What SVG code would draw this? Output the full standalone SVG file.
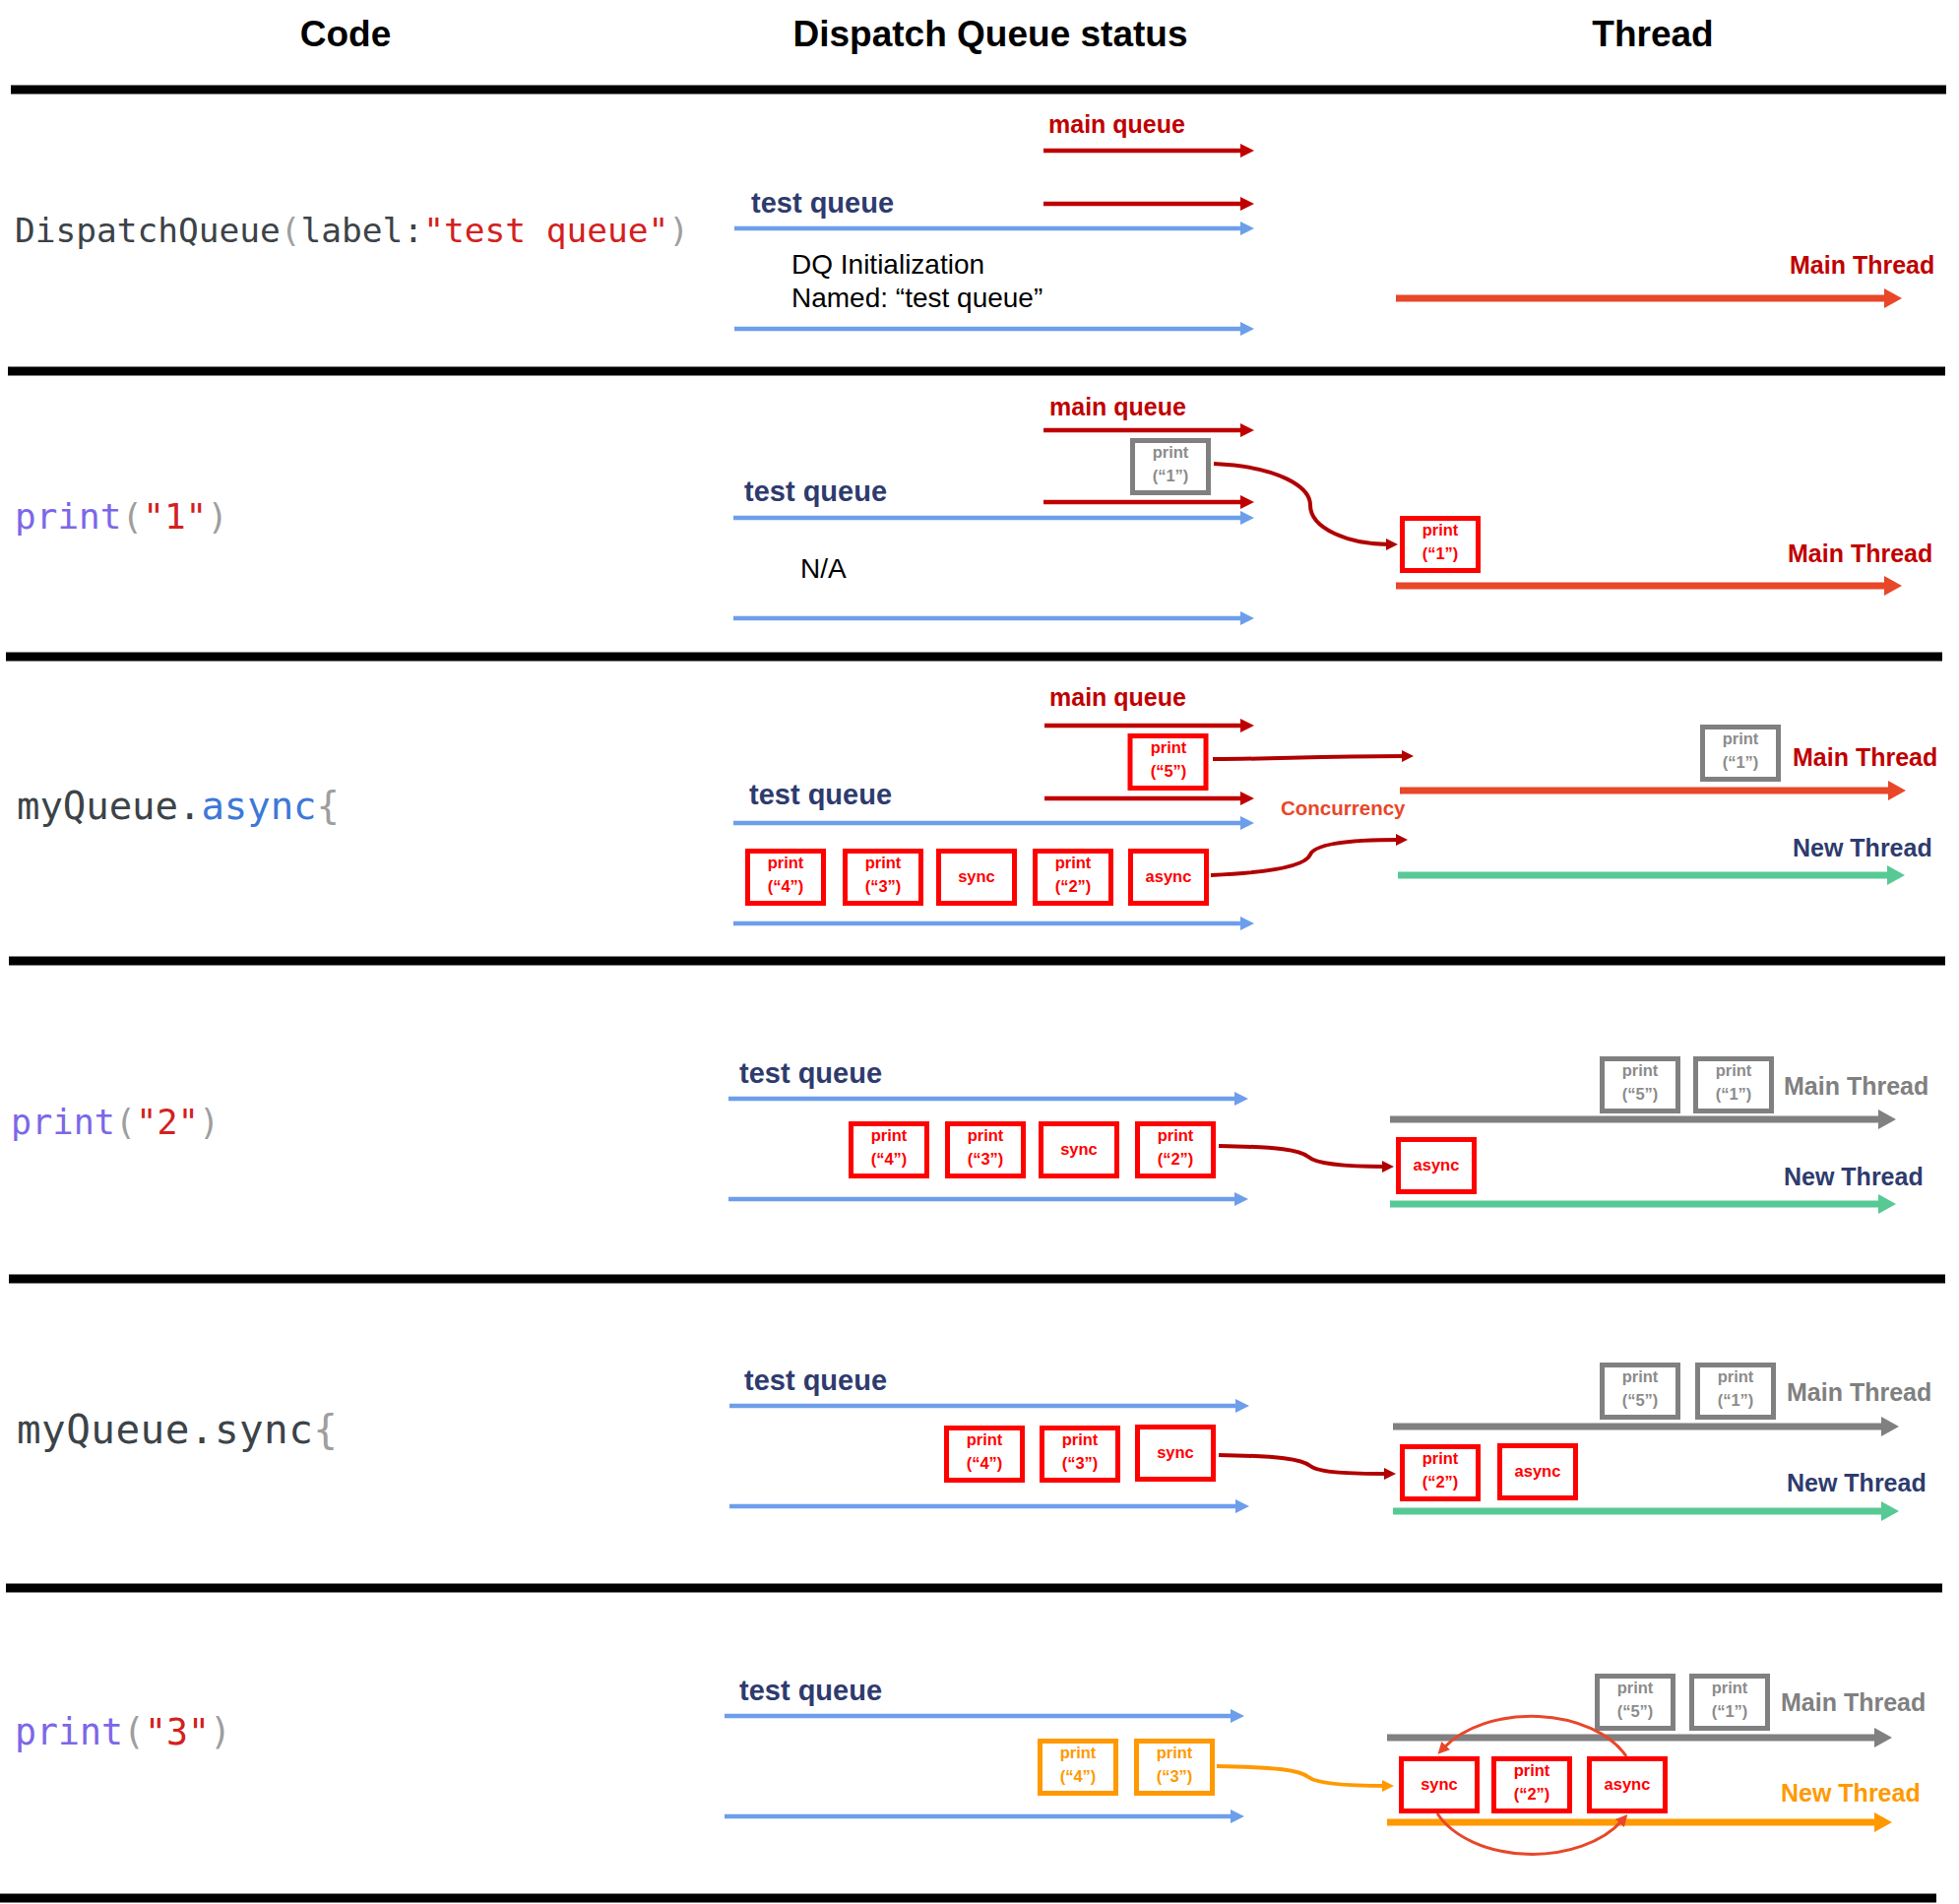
<svg xmlns="http://www.w3.org/2000/svg" width="1990" height="1934" viewBox="0 0 1990 1934">
<defs>
<style>
.hdr{font-family:"Liberation Sans",Arial,sans-serif;font-weight:bold;font-size:37px;fill:#000;text-anchor:middle}
.sep{stroke:#000;stroke-width:9}
.code{font-family:"DejaVu Sans Mono",monospace;font-size:34.5px;fill:#3c4348}
.c-p{fill:#9e9e9e}
.c-s{fill:#d32020}
.c-f{fill:#7c67e8}
.c-k{fill:#3d78d8}
.lbl{font-family:"Liberation Sans",Arial,sans-serif;font-weight:bold}
.mq{font-size:25px;fill:#c00000}
.tq{font-size:29px;fill:#2e3b6e}
.plain{font-family:"Liberation Sans",Arial,sans-serif;font-size:28px;fill:#000}
.th{font-size:25px}
.th-red{fill:#c00000}
.th-navy{fill:#2e3b6e}
.th-gray{fill:#808080}
.th-org{fill:#ff9900}
.conc{font-size:20.5px;fill:#e8472a}
.qr{stroke:#c00000;stroke-width:4.5;fill:none}
.qb{stroke:#6d9eeb;stroke-width:4.5;fill:none}
.tr{stroke-width:7;fill:none}
.t-red{stroke:#e8472a}
.t-green{stroke:#57c995}
.t-gray{stroke:#808080}
.t-org{stroke:#ff9900}
.box{fill:#fff;stroke-width:5}
.b-red{stroke:#ff0000}
.b-gray{stroke:#808080}
.b-org{stroke:#ff9900}
.bt{font-family:"Liberation Sans",Arial,sans-serif;font-weight:bold;font-size:16.5px;text-anchor:middle}
.bt-red{fill:#ff0000}
.bt-gray{fill:#8c8c8c}
.bt-org{fill:#ff9900}
.conn{fill:none;stroke:#b00000;stroke-width:4}
.conn-org{fill:none;stroke:#ff9900;stroke-width:4}
.cyc{fill:none;stroke:#e8472a;stroke-width:3}
</style>
<marker id="ah-qr" markerUnits="userSpaceOnUse" markerWidth="14" markerHeight="14" refX="6" refY="7" orient="auto" viewBox="0 0 14 14"><path d="M0,0L14,7L0,14z" fill="#c00000"/></marker>
<marker id="ah-qb" markerUnits="userSpaceOnUse" markerWidth="14" markerHeight="14" refX="6" refY="7" orient="auto" viewBox="0 0 14 14"><path d="M0,0L14,7L0,14z" fill="#6d9eeb"/></marker>
<marker id="ah-tred" markerUnits="userSpaceOnUse" markerWidth="18" markerHeight="20" refX="8" refY="10" orient="auto" viewBox="0 0 18 20"><path d="M0,0L18,10L0,20z" fill="#e8472a"/></marker>
<marker id="ah-tgreen" markerUnits="userSpaceOnUse" markerWidth="18" markerHeight="20" refX="8" refY="10" orient="auto" viewBox="0 0 18 20"><path d="M0,0L18,10L0,20z" fill="#57c995"/></marker>
<marker id="ah-tgray" markerUnits="userSpaceOnUse" markerWidth="18" markerHeight="20" refX="8" refY="10" orient="auto" viewBox="0 0 18 20"><path d="M0,0L18,10L0,20z" fill="#808080"/></marker>
<marker id="ah-torg" markerUnits="userSpaceOnUse" markerWidth="18" markerHeight="20" refX="8" refY="10" orient="auto" viewBox="0 0 18 20"><path d="M0,0L18,10L0,20z" fill="#ff9900"/></marker>
<marker id="ah-conn" markerUnits="userSpaceOnUse" markerWidth="12" markerHeight="12" refX="4" refY="6" orient="auto" viewBox="0 0 12 12"><path d="M0,0L12,6L0,12z" fill="#b00000"/></marker>
<marker id="ah-corg" markerUnits="userSpaceOnUse" markerWidth="12" markerHeight="12" refX="4" refY="6" orient="auto" viewBox="0 0 12 12"><path d="M0,0L12,6L0,12z" fill="#ff9900"/></marker>
<marker id="ah-cyc" markerUnits="userSpaceOnUse" markerWidth="12" markerHeight="12" refX="4" refY="6" orient="auto" viewBox="0 0 12 12"><path d="M0,0L12,6L0,12z" fill="#e8472a"/></marker>
</defs>
<rect width="1990" height="1934" fill="#fff"/>

<g id="headers">
<text class="hdr" x="351" y="47">Code</text>
<text class="hdr" x="1006" y="47">Dispatch Queue status</text>
<text class="hdr" x="1679" y="47">Thread</text>
</g>

<g id="separators">
<line class="sep" x1="11" y1="91" x2="1977" y2="91"/>
<line class="sep" x1="8" y1="377" x2="1976" y2="377"/>
<line class="sep" x1="6" y1="667" x2="1973" y2="667"/>
<line class="sep" x1="9" y1="976" x2="1976" y2="976"/>
<line class="sep" x1="9" y1="1299" x2="1976" y2="1299"/>
<line class="sep" x1="6" y1="1613" x2="1973" y2="1613"/>
<line class="sep" x1="0" y1="1928" x2="1967" y2="1928"/>
</g>

<!-- Code column -->
<g id="code-1"><text class="code" x="15" y="246" textLength="685">DispatchQueue<tspan class="c-p">(</tspan>label:<tspan class="c-s">"test queue"</tspan><tspan class="c-p">)</tspan></text></g>
<g id="code-2"><text class="code" x="15" y="537" style="font-size:36px" textLength="217"><tspan class="c-f">print</tspan><tspan class="c-p">(</tspan><tspan class="c-s">"1"</tspan><tspan class="c-p">)</tspan></text></g>
<g id="code-3"><text class="code" x="17" y="832" style="font-size:39px" textLength="328"><tspan>myQueue.</tspan><tspan class="c-k">async</tspan><tspan class="c-p">{</tspan></text></g>
<g id="code-4"><text class="code" x="11" y="1152" style="font-size:35px" textLength="212"><tspan class="c-f">print</tspan><tspan class="c-p">(</tspan><tspan class="c-s">"2"</tspan><tspan class="c-p">)</tspan></text></g>
<g id="code-5"><text class="code" x="17" y="1466" style="font-size:41px" textLength="326"><tspan>myQueue.sync</tspan><tspan class="c-p">{</tspan></text></g>
<g id="code-6"><text class="code" x="15" y="1772" style="font-size:36.5px" textLength="220"><tspan class="c-f">print</tspan><tspan class="c-p">(</tspan><tspan class="c-s">"3"</tspan><tspan class="c-p">)</tspan></text></g>

<!-- Labels -->
<g id="labels">
<text class="lbl mq" x="1065" y="135">main queue</text>
<text class="lbl tq" x="763" y="216">test queue</text>
<text class="plain" x="804" y="278">DQ Initialization</text>
<text class="plain" x="804" y="312">Named: “test queue”</text>
<text class="lbl th th-red" x="1818" y="278">Main Thread</text>

<text class="lbl mq" x="1066" y="422">main queue</text>
<text class="lbl tq" x="756" y="509">test queue</text>
<text class="plain" x="813" y="587">N/A</text>
<text class="lbl th th-red" x="1816" y="571">Main Thread</text>

<text class="lbl mq" x="1066" y="717">main queue</text>
<text class="lbl tq" x="761" y="817">test queue</text>
<text class="lbl conc" x="1301" y="828">Concurrency</text>
<text class="lbl th th-red" x="1821" y="778">Main Thread</text>
<text class="lbl th th-navy" x="1821" y="870">New Thread</text>

<text class="lbl tq" x="751" y="1100">test queue</text>
<text class="lbl th th-gray" x="1812" y="1112">Main Thread</text>
<text class="lbl th th-navy" x="1812" y="1204">New Thread</text>

<text class="lbl tq" x="756" y="1412">test queue</text>
<text class="lbl th th-gray" x="1815" y="1423">Main Thread</text>
<text class="lbl th th-navy" x="1815" y="1515">New Thread</text>

<text class="lbl tq" x="751" y="1727">test queue</text>
<text class="lbl th th-gray" x="1809" y="1738">Main Thread</text>
<text class="lbl th th-org" x="1809" y="1830">New Thread</text>
</g>

<!-- Queue and thread lanes -->
<g id="lanes">
<line class="qr" x1="1060" y1="153" x2="1266" y2="153" marker-end="url(#ah-qr)"/>
<line class="qr" x1="1060" y1="207" x2="1266" y2="207" marker-end="url(#ah-qr)"/>
<line class="qb" x1="746" y1="232" x2="1266" y2="232" marker-end="url(#ah-qb)"/>
<line class="qb" x1="746" y1="334" x2="1266" y2="334" marker-end="url(#ah-qb)"/>
<line class="tr t-red" x1="1418" y1="303" x2="1922" y2="303" marker-end="url(#ah-tred)"/>

<line class="qr" x1="1060" y1="437" x2="1266" y2="437" marker-end="url(#ah-qr)"/>
<line class="qr" x1="1060" y1="510" x2="1266" y2="510" marker-end="url(#ah-qr)"/>
<line class="qb" x1="745" y1="526" x2="1266" y2="526" marker-end="url(#ah-qb)"/>
<line class="qb" x1="745" y1="628" x2="1266" y2="628" marker-end="url(#ah-qb)"/>
<line class="tr t-red" x1="1418" y1="595" x2="1922" y2="595" marker-end="url(#ah-tred)"/>

<line class="qr" x1="1061" y1="737" x2="1266" y2="737" marker-end="url(#ah-qr)"/>
<line class="qr" x1="1061" y1="811" x2="1266" y2="811" marker-end="url(#ah-qr)"/>
<line class="qb" x1="745" y1="836" x2="1266" y2="836" marker-end="url(#ah-qb)"/>
<line class="qb" x1="745" y1="938" x2="1266" y2="938" marker-end="url(#ah-qb)"/>
<line class="tr t-red" x1="1422" y1="803" x2="1926" y2="803" marker-end="url(#ah-tred)"/>
<line class="tr t-green" x1="1420" y1="889" x2="1925" y2="889" marker-end="url(#ah-tgreen)"/>

<line class="qb" x1="740" y1="1116" x2="1260" y2="1116" marker-end="url(#ah-qb)"/>
<line class="qb" x1="740" y1="1218" x2="1260" y2="1218" marker-end="url(#ah-qb)"/>
<line class="tr t-gray" x1="1412" y1="1137" x2="1916" y2="1137" marker-end="url(#ah-tgray)"/>
<line class="tr t-green" x1="1412" y1="1223" x2="1916" y2="1223" marker-end="url(#ah-tgreen)"/>

<line class="qb" x1="741" y1="1428" x2="1261" y2="1428" marker-end="url(#ah-qb)"/>
<line class="qb" x1="741" y1="1530" x2="1261" y2="1530" marker-end="url(#ah-qb)"/>
<line class="tr t-gray" x1="1415" y1="1449" x2="1919" y2="1449" marker-end="url(#ah-tgray)"/>
<line class="tr t-green" x1="1415" y1="1535" x2="1919" y2="1535" marker-end="url(#ah-tgreen)"/>

<line class="qb" x1="736" y1="1743" x2="1256" y2="1743" marker-end="url(#ah-qb)"/>
<line class="qb" x1="736" y1="1845" x2="1256" y2="1845" marker-end="url(#ah-qb)"/>
<line class="tr t-gray" x1="1409" y1="1765" x2="1912" y2="1765" marker-end="url(#ah-tgray)"/>
<line class="tr t-org" x1="1409" y1="1851" x2="1912" y2="1851" marker-end="url(#ah-torg)"/>
</g>

<!-- Section 2 nodes -->
<g id="s2-q-print1"><rect class="box b-gray" x="1150.5" y="447.5" width="77" height="53"/><text class="bt bt-gray" x="1189" y="465">print</text><text class="bt bt-gray" x="1189" y="489">(“1”)</text></g>
<g id="s2-t-print1"><rect class="box b-red" x="1424.5" y="526.5" width="77" height="53"/><text class="bt bt-red" x="1463" y="544">print</text><text class="bt bt-red" x="1463" y="568">(“1”)</text></g>

<!-- Section 3 nodes -->
<g id="s3-q-print5"><rect class="box b-red" x="1148" y="747.5" width="77" height="53"/><text class="bt bt-red" x="1187" y="765">print</text><text class="bt bt-red" x="1187" y="789">(“5”)</text></g>
<g id="s3-q-print4"><rect class="box b-red" x="759.5" y="864.5" width="77" height="53"/><text class="bt bt-red" x="798" y="882">print</text><text class="bt bt-red" x="798" y="906">(“4”)</text></g>
<g id="s3-q-print3"><rect class="box b-red" x="858.5" y="864.5" width="77" height="53"/><text class="bt bt-red" x="897" y="882">print</text><text class="bt bt-red" x="897" y="906">(“3”)</text></g>
<g id="s3-q-sync"><rect class="box b-red" x="953.5" y="864.5" width="77" height="53"/><text class="bt bt-red" x="992" y="896">sync</text></g>
<g id="s3-q-print2"><rect class="box b-red" x="1051.5" y="864.5" width="77" height="53"/><text class="bt bt-red" x="1090" y="882">print</text><text class="bt bt-red" x="1090" y="906">(“2”)</text></g>
<g id="s3-q-async"><rect class="box b-red" x="1148.5" y="864.5" width="77" height="53"/><text class="bt bt-red" x="1187" y="896">async</text></g>
<g id="s3-t-print1"><rect class="box b-gray" x="1729.5" y="738.5" width="77" height="53"/><text class="bt bt-gray" x="1768" y="756">print</text><text class="bt bt-gray" x="1768" y="780">(“1”)</text></g>

<!-- Section 4 nodes -->
<g id="s4-q-print4"><rect class="box b-red" x="864.5" y="1141.5" width="77" height="53"/><text class="bt bt-red" x="903" y="1159">print</text><text class="bt bt-red" x="903" y="1183">(“4”)</text></g>
<g id="s4-q-print3"><rect class="box b-red" x="962.5" y="1141.5" width="77" height="53"/><text class="bt bt-red" x="1001" y="1159">print</text><text class="bt bt-red" x="1001" y="1183">(“3”)</text></g>
<g id="s4-q-sync"><rect class="box b-red" x="1057.5" y="1141.5" width="77" height="53"/><text class="bt bt-red" x="1096" y="1173">sync</text></g>
<g id="s4-q-print2"><rect class="box b-red" x="1155.5" y="1141.5" width="77" height="53"/><text class="bt bt-red" x="1194" y="1159">print</text><text class="bt bt-red" x="1194" y="1183">(“2”)</text></g>
<g id="s4-t-async"><rect class="box b-red" x="1420.5" y="1157.5" width="77" height="53"/><text class="bt bt-red" x="1459" y="1189">async</text></g>
<g id="s4-t-print5"><rect class="box b-gray" x="1627.5" y="1075.5" width="77" height="53"/><text class="bt bt-gray" x="1666" y="1093">print</text><text class="bt bt-gray" x="1666" y="1117">(“5”)</text></g>
<g id="s4-t-print1"><rect class="box b-gray" x="1722.5" y="1075.5" width="77" height="53"/><text class="bt bt-gray" x="1761" y="1093">print</text><text class="bt bt-gray" x="1761" y="1117">(“1”)</text></g>

<!-- Section 5 nodes -->
<g id="s5-q-print4"><rect class="box b-red" x="961.5" y="1450.5" width="77" height="53"/><text class="bt bt-red" x="1000" y="1468">print</text><text class="bt bt-red" x="1000" y="1492">(“4”)</text></g>
<g id="s5-q-print3"><rect class="box b-red" x="1058.5" y="1450.5" width="77" height="53"/><text class="bt bt-red" x="1097" y="1468">print</text><text class="bt bt-red" x="1097" y="1492">(“3”)</text></g>
<g id="s5-q-sync"><rect class="box b-red" x="1155.5" y="1449.5" width="77" height="53"/><text class="bt bt-red" x="1194" y="1481">sync</text></g>
<g id="s5-t-print2"><rect class="box b-red" x="1424.5" y="1469.5" width="77" height="53"/><text class="bt bt-red" x="1463" y="1487">print</text><text class="bt bt-red" x="1463" y="1511">(“2”)</text></g>
<g id="s5-t-async"><rect class="box b-red" x="1523.5" y="1468.5" width="77" height="53"/><text class="bt bt-red" x="1562" y="1500">async</text></g>
<g id="s5-t-print5"><rect class="box b-gray" x="1627.5" y="1386.5" width="77" height="53"/><text class="bt bt-gray" x="1666" y="1404">print</text><text class="bt bt-gray" x="1666" y="1428">(“5”)</text></g>
<g id="s5-t-print1"><rect class="box b-gray" x="1724.5" y="1386.5" width="77" height="53"/><text class="bt bt-gray" x="1763" y="1404">print</text><text class="bt bt-gray" x="1763" y="1428">(“1”)</text></g>

<!-- Section 6 nodes -->
<g id="s6-q-print4"><rect class="box b-org" x="1056.5" y="1768.5" width="77" height="53"/><text class="bt bt-org" x="1095" y="1786">print</text><text class="bt bt-org" x="1095" y="1810">(“4”)</text></g>
<g id="s6-q-print3"><rect class="box b-org" x="1154.5" y="1768.5" width="77" height="53"/><text class="bt bt-org" x="1193" y="1786">print</text><text class="bt bt-org" x="1193" y="1810">(“3”)</text></g>
<g id="s6-t-sync"><rect class="box b-red" x="1423.5" y="1786.5" width="77" height="53"/><text class="bt bt-red" x="1462" y="1818">sync</text></g>
<g id="s6-t-print2"><rect class="box b-red" x="1517.5" y="1786.5" width="77" height="53"/><text class="bt bt-red" x="1556" y="1804">print</text><text class="bt bt-red" x="1556" y="1828">(“2”)</text></g>
<g id="s6-t-async"><rect class="box b-red" x="1614.5" y="1786.5" width="77" height="53"/><text class="bt bt-red" x="1653" y="1818">async</text></g>
<g id="s6-t-print5"><rect class="box b-gray" x="1622.5" y="1702.5" width="77" height="53"/><text class="bt bt-gray" x="1661" y="1720">print</text><text class="bt bt-gray" x="1661" y="1744">(“5”)</text></g>
<g id="s6-t-print1"><rect class="box b-gray" x="1718.5" y="1702.5" width="77" height="53"/><text class="bt bt-gray" x="1757" y="1720">print</text><text class="bt bt-gray" x="1757" y="1744">(“1”)</text></g>

<!-- Connectors -->
<g id="connectors">
<path class="conn" d="M1233,471 C1300,474 1331,495 1331,513 C1331,537 1370,553 1412,553" marker-end="url(#ah-conn)"/>
<path class="conn" d="M1232,771 C1300,771 1330,768 1428,768" marker-end="url(#ah-conn)"/>
<path class="conn" d="M1230,889 C1300,886 1327,878 1331,868 C1336,856 1380,853 1422,853" marker-end="url(#ah-conn)"/>
<path class="conn" d="M1238,1164 C1300,1165 1320,1168 1329,1175 C1338,1183 1370,1185 1408,1185" marker-end="url(#ah-conn)"/>
<path class="conn" d="M1238,1478 C1300,1479 1322,1482 1331,1489 C1340,1496 1372,1497 1410,1497" marker-end="url(#ah-conn)"/>
<path class="conn-org" d="M1236,1794 C1298,1795 1320,1798 1329,1805 C1338,1812 1370,1814 1408,1814" marker-end="url(#ah-corg)"/>
<path class="cyc" d="M1652,1784 A105,68 0 0 0 1466,1776" marker-end="url(#ah-cyc)"/>
<path class="cyc" d="M1460,1842 A105,68 0 0 0 1648,1849" marker-end="url(#ah-cyc)"/>
</g>
</svg>
